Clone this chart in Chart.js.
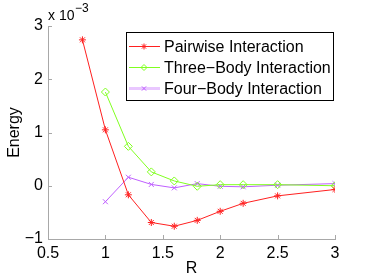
<!DOCTYPE html>
<html lang="en">
<head>
    <meta charset="UTF-8">
    <title>Energy vs R</title>
    <script src="https://cdn.jsdelivr.net/npm/chart.js@4.4.0/dist/chart.umd.min.js"></script>
    <style>
        html, body { margin: 0; padding: 0; background: #fff; }
        #wrap { width: 369px; height: 278px; }
    </style>
</head>
<body>
    <div id="wrap"><canvas id="energyChart" width="369" height="278"></canvas></div>
    <script>
        // values (energy in units of 1e-3)
        const pairR = [0.8, 1.0, 1.2, 1.4, 1.6, 1.8, 2.0, 2.2, 2.5, 3.0];
        const pairwise = [2.74, 1.05, -0.17, -0.69, -0.76, -0.65, -0.48, -0.33, -0.19, -0.07];
        const manyR = [1.0, 1.2, 1.4, 1.6, 1.8, 2.0, 2.2, 2.5, 3.0];
        const threeBody = [1.76, 0.74, 0.26, 0.09, -0.01, 0.02, 0.02, 0.02, 0.0];
        const fourBody = [-0.30, 0.16, 0.025, -0.04, 0.04, -0.01, -0.02, 0.01, 0.04];
        const xTicks = [0.5, 1, 1.5, 2, 2.5, 3];
        const yTicks = [-1, 0, 1, 2, 3];

        const FONT = "'Liberation Sans', Arial, sans-serif";
        const AXIS_GRAY = '#a8a8a8';

        function toPoints(xs, ys) {
            return xs.map((x, i) => ({ x: x, y: ys[i] }));
        }

        function fmt(v) {
            return String(v).replace('-', '\u2212');
        }

        // MATLAB-style inward ticks, exponent label and boxed legend
        const matlabBits = {
            id: 'matlabBits',
            afterDraw(chart) {
                const ctx = chart.ctx;
                const xs = chart.scales.x, ys = chart.scales.y;
                const area = chart.chartArea;
                ctx.save();
                ctx.strokeStyle = AXIS_GRAY;
                ctx.lineWidth = 1;
                xTicks.forEach(t => {
                    const px = Math.round(xs.getPixelForValue(t)) + 0.5;
                    ctx.beginPath();
                    ctx.moveTo(px, area.bottom);
                    ctx.lineTo(px, area.bottom - 4);
                    ctx.stroke();
                });
                yTicks.forEach(t => {
                    const py = Math.round(ys.getPixelForValue(t)) + 0.5;
                    ctx.beginPath();
                    ctx.moveTo(area.left, py);
                    ctx.lineTo(area.left + 4, py);
                    ctx.stroke();
                });

                // exponent
                ctx.fillStyle = '#000';
                ctx.textBaseline = 'alphabetic';
                ctx.textAlign = 'left';
                ctx.font = '14px ' + FONT;
                ctx.fillText('x 10', area.left, 20);
                ctx.font = '12px ' + FONT;
                ctx.fillText('\u22123', area.left + 27, 12);

                // legend
                const bx = 126, by = 32, bw = 207, bh = 68;
                ctx.fillStyle = '#fff';
                ctx.fillRect(bx, by, bw, bh);
                ctx.strokeStyle = '#000';
                ctx.lineWidth = 1;
                ctx.strokeRect(bx + 0.5, by + 0.5, bw, bh);
                const rowsY = [46, 67, 88];
                chart.data.datasets.forEach((ds, i) => {
                    const y = rowsY[i] + 0.5;
                    if (i === 2) {
                        ctx.strokeStyle = 'rgba(191,95,255,0.35)';
                        ctx.lineWidth = 3;
                    } else {
                        ctx.strokeStyle = ds.borderColor;
                        ctx.lineWidth = 1;
                    }
                    ctx.beginPath();
                    ctx.moveTo(129, y);
                    ctx.lineTo(160, y);
                    ctx.stroke();
                    ctx.strokeStyle = ds.borderColor;
                    ctx.fillStyle = ds.pointBackgroundColor;
                    ctx.lineWidth = 1;
                    Chart.helpers.drawPoint(ctx, {
                        pointStyle: ds.pointStyle,
                        radius: 3,
                        borderWidth: 1
                    }, 144, y);
                    ctx.fillStyle = '#000';
                    ctx.font = '16px ' + FONT;
                    ctx.textBaseline = 'middle';
                    ctx.fillText(ds.label, 164, y + 1);
                });
                ctx.restore();
            }
        };

        new Chart(document.getElementById('energyChart'), {
            type: 'line',
            data: {
                datasets: [
                    {
                        label: 'Pairwise Interaction',
                        data: toPoints(pairR, pairwise),
                        borderColor: '#ff2020',
                        backgroundColor: '#ff2020',
                        pointBackgroundColor: '#ff2020',
                        borderWidth: 1,
                        pointStyle: 'star',
                        pointRadius: 3.5,
                        pointBorderWidth: 1,
                        tension: 0
                    },
                    {
                        label: 'Three\u2212Body Interaction',
                        data: toPoints(manyR, threeBody),
                        borderColor: '#80ff20',
                        backgroundColor: 'rgba(0,0,0,0)',
                        pointBackgroundColor: 'rgba(0,0,0,0)',
                        borderWidth: 1,
                        pointStyle: 'rectRot',
                        pointRadius: 4,
                        pointBorderWidth: 1,
                        tension: 0
                    },
                    {
                        label: 'Four\u2212Body Interaction',
                        data: toPoints(manyR, fourBody),
                        borderColor: '#bf5fff',
                        backgroundColor: '#bf5fff',
                        pointBackgroundColor: '#bf5fff',
                        borderWidth: 1,
                        pointStyle: 'crossRot',
                        pointRadius: 3.5,
                        pointBorderWidth: 1,
                        tension: 0
                    }
                ]
            },
            options: {
                responsive: false,
                animation: false,
                layout: { padding: { left: 0, right: 34, top: 26, bottom: 0 } },
                plugins: {
                    legend: { display: false },
                    tooltip: { enabled: false }
                },
                scales: {
                    x: {
                        type: 'linear',
                        min: 0.5,
                        max: 3,
                        afterFit: s => { s.height = 39; },
                        afterBuildTicks: s => { s.ticks = xTicks.map(v => ({ value: v })); },
                        grid: { display: false, drawTicks: false },
                        border: { display: true, color: AXIS_GRAY, width: 1 },
                        ticks: {
                            color: '#000',
                            font: { family: FONT, size: 16 },
                            padding: 5,
                            maxRotation: 0,
                            callback: v => fmt(v)
                        },
                        title: {
                            display: true,
                            text: 'R',
                            color: '#000',
                            font: { family: FONT, size: 16 },
                            padding: { top: 0, bottom: 0 }
                        }
                    },
                    y: {
                        type: 'linear',
                        min: -1,
                        max: 3,
                        afterFit: s => { s.width = 48; },
                        afterBuildTicks: s => { s.ticks = yTicks.map(v => ({ value: v })); },
                        grid: { display: false, drawTicks: false },
                        border: { display: true, color: AXIS_GRAY, width: 1 },
                        ticks: {
                            color: '#000',
                            font: { family: FONT, size: 16 },
                            padding: 5,
                            callback: v => fmt(v)
                        },
                        title: {
                            display: true,
                            text: 'Energy',
                            color: '#000',
                            font: { family: FONT, size: 16 },
                            padding: { top: 5, bottom: 0 }
                        }
                    }
                }
            },
            plugins: [matlabBits]
        });
    </script>
</body>
</html>
